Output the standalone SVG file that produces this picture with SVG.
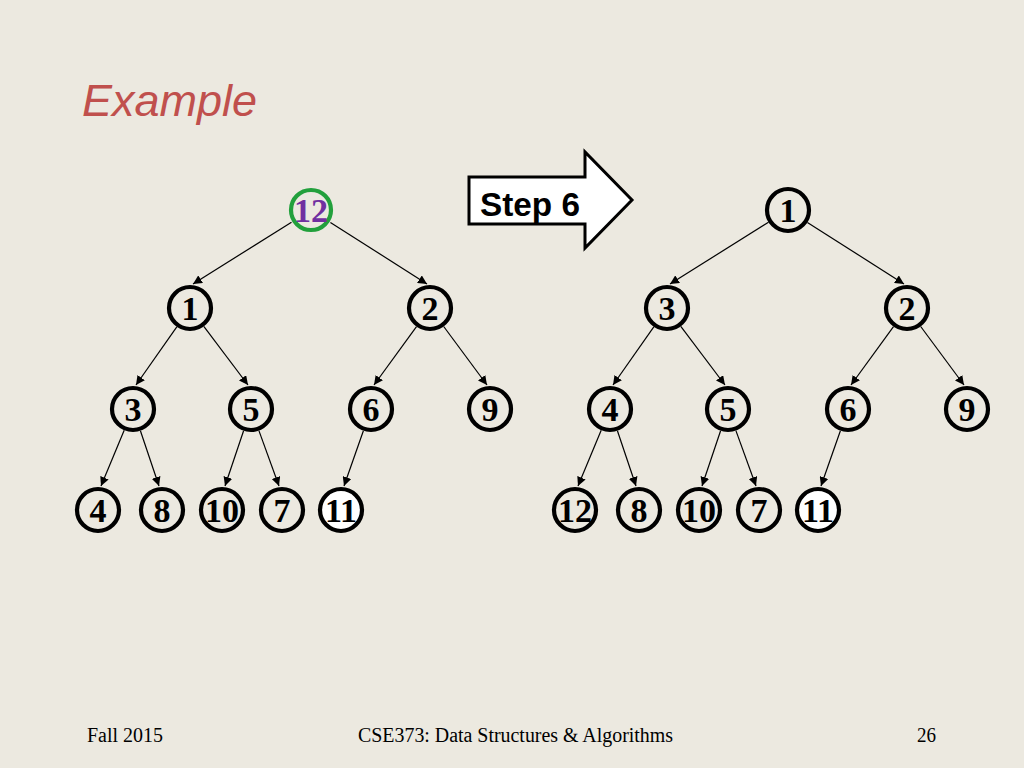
<svg xmlns="http://www.w3.org/2000/svg" width="1024" height="768" viewBox="0 0 1024 768">
<style>
.bg{fill:#ECE9E0}
.node circle{fill:none;stroke:#000;stroke-width:4.2}
.node text{font-family:"Liberation Serif","Times New Roman",serif;font-weight:bold;font-size:34px;text-anchor:middle;fill:#000}
.node.white circle{fill:#fff}
.node.hl circle{stroke:#22A03C}
.node.hl text{fill:#7030A0}
.edges line{stroke:#000;stroke-width:1.2;marker-end:url(#ah)}
.title{font-family:"Liberation Sans",Arial,sans-serif;font-style:italic;font-size:45px;fill:#C0504D}
.foot{font-family:"Liberation Serif","Times New Roman",serif;font-size:20px;fill:#000}
.step{font-family:"Liberation Sans",Arial,sans-serif;font-weight:bold;font-size:33px;fill:#000}
</style>
<defs>
<marker id="ah" viewBox="0 0 10 10" refX="10" refY="5" markerWidth="9" markerHeight="9" markerUnits="userSpaceOnUse" orient="auto">
<path d="M0,0 L10,5 L0,10 z" fill="#000"/>
</marker>
</defs>
<rect class="bg" x="0" y="0" width="1024" height="768"/>
<text class="title" x="82" y="116">Example</text>

<g id="step-arrow">
<polygon points="469,177 585,177 585,152 632,200 585,248 585,224 469,224" fill="#fff" stroke="#000" stroke-width="3"/>
<text class="step" x="480" y="216" textLength="100" lengthAdjust="spacingAndGlyphs">Step 6</text>
</g>

<g id="connectors" class="edges">
<g id="left-edges">
<line x1="291.5" y1="222.2" x2="193" y2="284"/>
<line x1="330.4" y1="222.4" x2="427" y2="284"/>
<line x1="176.8" y1="326.8" x2="136" y2="385"/>
<line x1="203.8" y1="326.4" x2="248" y2="385"/>
<line x1="416.5" y1="326.6" x2="374" y2="385"/>
<line x1="443.7" y1="326.5" x2="487" y2="385"/>
<line x1="124.2" y1="430.2" x2="101" y2="486"/>
<line x1="140.4" y1="430.8" x2="159" y2="486"/>
<line x1="243.6" y1="430.8" x2="225" y2="486"/>
<line x1="258.9" y1="430.6" x2="279" y2="486"/>
<line x1="363.4" y1="430.7" x2="344" y2="486"/>
</g>
<g id="right-edges" transform="translate(477,0)">
<line x1="291.5" y1="222.2" x2="193" y2="284"/>
<line x1="330.4" y1="222.4" x2="427" y2="284"/>
<line x1="176.8" y1="326.8" x2="136" y2="385"/>
<line x1="203.8" y1="326.4" x2="248" y2="385"/>
<line x1="416.5" y1="326.6" x2="374" y2="385"/>
<line x1="443.7" y1="326.5" x2="487" y2="385"/>
<line x1="124.2" y1="430.2" x2="101" y2="486"/>
<line x1="140.4" y1="430.8" x2="159" y2="486"/>
<line x1="243.6" y1="430.8" x2="225" y2="486"/>
<line x1="258.9" y1="430.6" x2="279" y2="486"/>
<line x1="363.4" y1="430.7" x2="344" y2="486"/>
</g>
</g>

<!-- left tree -->
<g id="L12" class="node hl"><circle cx="311" cy="210" r="20"/><text x="311" y="222">12</text></g>
<g id="L1" class="node"><circle cx="190" cy="308" r="21"/><text x="190" y="320">1</text></g>
<g id="L2" class="node"><circle cx="430" cy="308" r="21"/><text x="430" y="320">2</text></g>
<g id="L3" class="node"><circle cx="133" cy="409" r="21"/><text x="133" y="421">3</text></g>
<g id="L5" class="node"><circle cx="251" cy="409" r="21"/><text x="251" y="421">5</text></g>
<g id="L6" class="node"><circle cx="371" cy="409" r="21"/><text x="371" y="421">6</text></g>
<g id="L9" class="node"><circle cx="490" cy="409" r="21"/><text x="490" y="421">9</text></g>
<g id="L4" class="node"><circle cx="98" cy="510" r="21"/><text x="98" y="522">4</text></g>
<g id="L8" class="node"><circle cx="162" cy="510" r="21"/><text x="162" y="522">8</text></g>
<g id="L10" class="node"><circle cx="222" cy="510" r="21"/><text x="222" y="522">10</text></g>
<g id="L7" class="node"><circle cx="282" cy="510" r="21"/><text x="282" y="522">7</text></g>
<g id="L11" class="node white"><circle cx="341" cy="510" r="21"/><text x="341" y="522">11</text></g>

<!-- right tree -->
<g id="R1" class="node"><circle cx="788" cy="210" r="21"/><text x="788" y="222">1</text></g>
<g id="R3" class="node"><circle cx="667" cy="308" r="21"/><text x="667" y="320">3</text></g>
<g id="R2" class="node"><circle cx="907" cy="308" r="21"/><text x="907" y="320">2</text></g>
<g id="R4" class="node"><circle cx="610" cy="409" r="21"/><text x="610" y="421">4</text></g>
<g id="R5" class="node"><circle cx="728" cy="409" r="21"/><text x="728" y="421">5</text></g>
<g id="R6" class="node"><circle cx="848" cy="409" r="21"/><text x="848" y="421">6</text></g>
<g id="R9" class="node"><circle cx="967" cy="409" r="21"/><text x="967" y="421">9</text></g>
<g id="R12" class="node"><circle cx="575" cy="510" r="21"/><text x="575" y="522">12</text></g>
<g id="R8" class="node"><circle cx="639" cy="510" r="21"/><text x="639" y="522">8</text></g>
<g id="R10" class="node"><circle cx="699" cy="510" r="21"/><text x="699" y="522">10</text></g>
<g id="R7" class="node"><circle cx="759" cy="510" r="21"/><text x="759" y="522">7</text></g>
<g id="R11" class="node white"><circle cx="818" cy="510" r="21"/><text x="818" y="522">11</text></g>

<text class="foot" x="87" y="742" textLength="76" lengthAdjust="spacingAndGlyphs">Fall 2015</text>
<text class="foot" x="358" y="742" textLength="315" lengthAdjust="spacingAndGlyphs">CSE373: Data Structures &amp; Algorithms</text>
<text class="foot" x="917" y="742" textLength="19" lengthAdjust="spacingAndGlyphs">26</text>
</svg>
